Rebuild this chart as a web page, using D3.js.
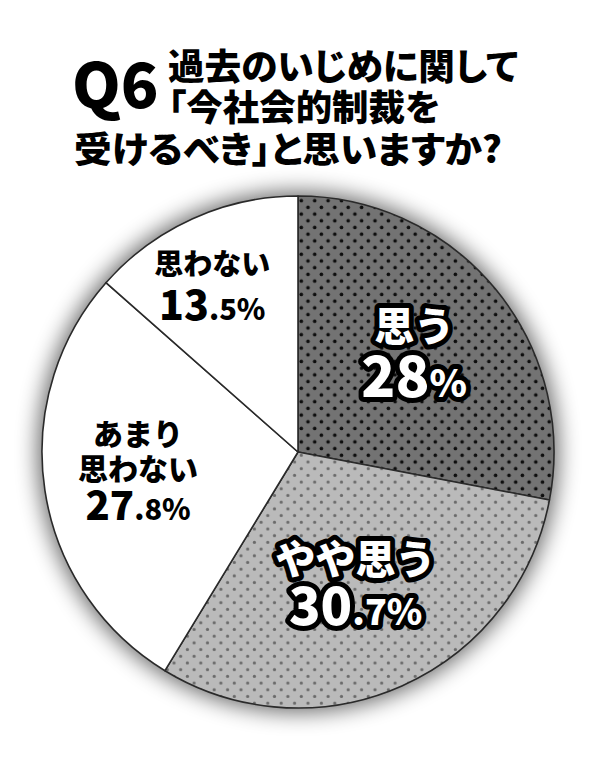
<!DOCTYPE html>
<html>
<head>
<meta charset="utf-8">
<script src="https://cdn.jsdelivr.net/npm/d3@7"></script>
<style>
  html, body { margin: 0; padding: 0; background: #fff; }
  svg { display: block; }
  text { font-family: "Noto Sans CJK JP", "Noto Sans", sans-serif; font-weight: 900; }
  .title { font-feature-settings: "palt"; }
</style>
</head>
<body>
<svg width="600" height="759"></svg>
<script>
// answers and their share (%)
var categories = ["思う", "やや思う", "あまり思わない", "思わない"];
var values = [28, 30.7, 27.8, 13.5];
var valueLabels = ["28%", "30.7%", "27.8%", "13.5%"];
var nameLines = [["思う"], ["やや思う"], ["あまり", "思わない"], ["思わない"]];

var titleQ = "Q6";
var titleLines = ["過去のいじめに関して", "「今社会的制裁を", "受けるべき」と思いますか?"];

var svg = d3.select("svg"),
    cx = 298, cy = 452, radius = 256;

var defs = svg.append("defs");

// soft grey halo behind the pie
defs.append("filter").attr("id", "halo")
    .attr("x", "-30%").attr("y", "-30%").attr("width", "160%").attr("height", "160%")
    .append("feGaussianBlur").attr("stdDeviation", 11);

// halftone dot fills
function dotPattern(id, bg, dot, r) {
    var p = defs.append("pattern").attr("id", id)
        .attr("patternUnits", "userSpaceOnUse")
        .attr("width", 13.4).attr("height", 13.4);
    p.append("rect").attr("width", 13.4).attr("height", 13.4).attr("fill", bg);
    [[3.3, 3.3], [10, 10]].forEach(function (c) {
        p.append("circle").attr("cx", c[0]).attr("cy", c[1]).attr("r", r).attr("fill", dot);
    });
}
dotPattern("dotsDark", "#737373", "#0d0d0d", 1.8);
dotPattern("dotsLight", "#bababa", "#6a6a6a", 1.6);

var fills = ["url(#dotsDark)", "url(#dotsLight)", "#fff", "#fff"];

// title
var title = svg.append("g");
title.append("text")
    .attr("x", 72).attr("y", 108)
    .attr("font-size", 62)
    .attr("fill", "#000")
    .text(titleQ);
var titleX = [168, 168, 74],
    titleY = [80, 121, 163],
    titleW = [350, 272, 428];
titleLines.forEach(function (t, i) {
    title.append("text")
        .attr("class", "title")
        .attr("x", titleX[i]).attr("y", titleY[i])
        .attr("font-size", 36)
        .attr("textLength", titleW[i])
        .attr("lengthAdjust", "spacingAndGlyphs")
        .attr("fill", "#000")
        .text(t);
});

var g = svg.append("g").attr("transform", "translate(" + cx + "," + cy + ")");

g.append("circle")
    .attr("r", radius + 4)
    .attr("fill", "#000")
    .attr("opacity", 0.6)
    .attr("filter", "url(#halo)");

var pie = d3.pie().sort(null).value(function (d) { return d; });
var arcs = pie(values);
var arc = d3.arc().innerRadius(0).outerRadius(radius);

g.selectAll("path.slice")
    .data(arcs)
    .enter().append("path")
    .attr("class", "slice")
    .attr("d", arc)
    .attr("fill", function (d, i) { return fills[i]; })
    .attr("stroke", "#2a2a2a")
    .attr("stroke-width", 1.6)
    .attr("stroke-linejoin", "round");

// label placement: angle shift from slice middle (deg), distance from centre
var labelShift = [-1, 0, 2, -3],
    labelDist = [153, 142, 161, 187];
var nameSize = [40, 40, 30, 29],
    numSize = [56, 52, 40, 41],
    smallSize = [38, 36, 29, 29];
var lineOffsets = [[-11], [-8], [-26, 9], [-11]],
    numOffset = [45, 43, 49, 34];
var inverted = [true, true, false, false];

var labels = g.selectAll("g.label")
    .data(arcs)
    .enter().append("g")
    .attr("class", "label")
    .attr("transform", function (d, i) {
        var a = (d.startAngle + d.endAngle) / 2 + labelShift[i] * Math.PI / 180;
        return "translate(" + (Math.sin(a) * labelDist[i]) + "," + (-Math.cos(a) * labelDist[i]) + ")";
    });

labels.each(function (d, i) {
    var el = d3.select(this);
    var styleText = function (t) {
        t.attr("text-anchor", "middle");
        if (inverted[i]) {
            t.attr("fill", "#fff")
                .attr("stroke", "#000")
                .attr("stroke-width", 10)
                .attr("stroke-linejoin", "round")
                .attr("paint-order", "stroke");
        } else {
            t.attr("fill", "#000");
        }
        return t;
    };
    nameLines[i].forEach(function (line, k) {
        styleText(el.append("text"))
            .attr("y", lineOffsets[i][k])
            .attr("font-size", nameSize[i])
            .text(line);
    });
    var str = valueLabels[i],
        m = str.match(/^(\d+)(.*)$/);
    var num = styleText(el.append("text")).attr("y", numOffset[i]);
    num.append("tspan").attr("font-size", numSize[i]).text(m[1]);
    num.append("tspan").attr("font-size", smallSize[i]).text(m[2]);
});
</script>
</body>
</html>
